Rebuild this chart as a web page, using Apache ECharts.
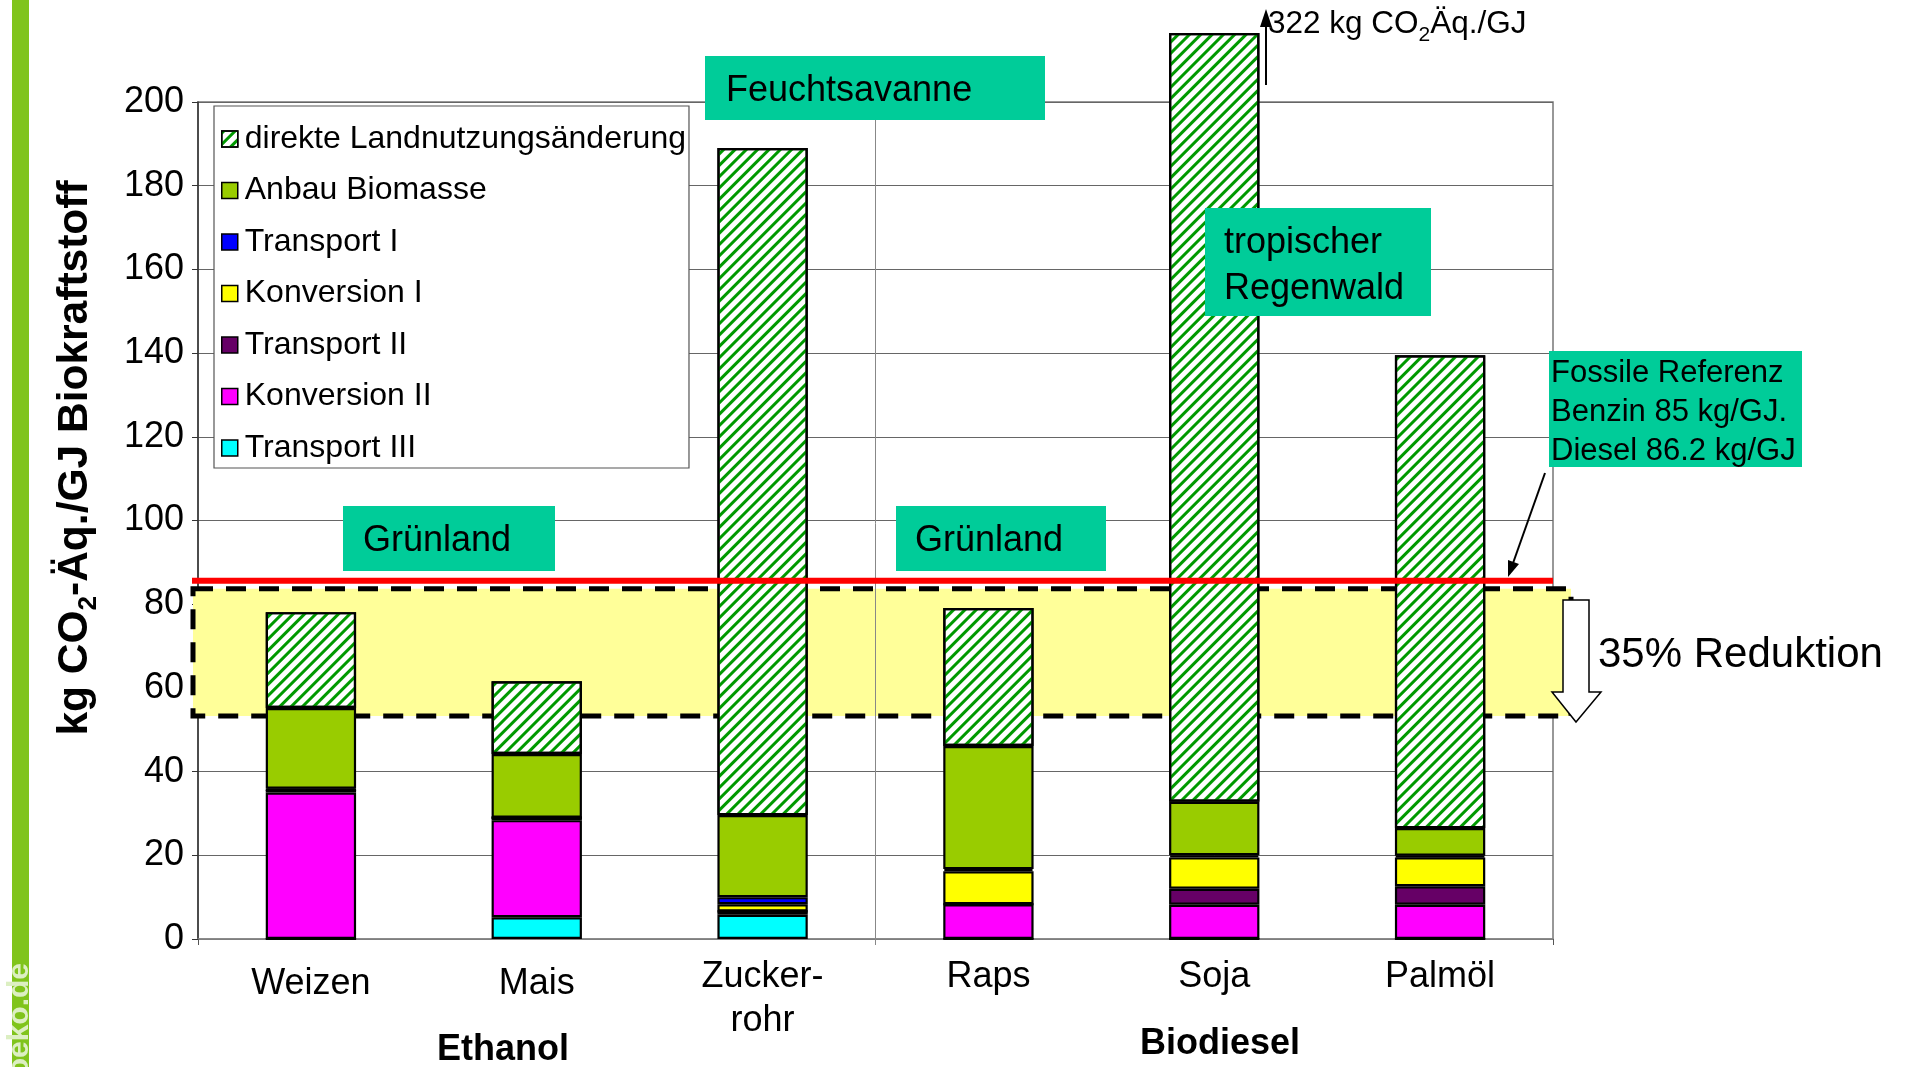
<!DOCTYPE html>
<html>
<head>
<meta charset="utf-8">
<title>THG-Bilanz Biokraftstoffe</title>
<script src="https://cdn.jsdelivr.net/npm/echarts@6/dist/echarts.min.js"></script>
<style>
  html, body { margin: 0; padding: 0; background: #fff; }
  #chart { width: 1908px; height: 1067px; }
</style>
</head>
<body>
<div id="chart"></div>
<script>
// Kategorien (Ethanol: Weizen, Mais, Zuckerrohr / Biodiesel: Raps, Soja, Palmöl)
const categories = ['Weizen', 'Mais', 'Zucker-\nrohr', 'Raps', 'Soja', 'Palmöl'];

// Emissionen in kg CO2-Äq./GJ, von unten nach oben gestapelt
const transport3 = [0, 5.2, 5.8, 0, 0, 0];
const konversion2 = [35.0, 23.2, 0.8, 8.3, 8.2, 8.2];
const transport2 = [0.6, 0.6, 0, 0, 3.8, 4.4];
const konversion1 = [0, 0, 1.7, 7.9, 7.5, 6.9];
const transport1 = [0.3, 0, 1.7, 0.5, 0.5, 0.4];
const anbau = [19.3, 15.2, 19.6, 29.4, 12.8, 6.6];
// Soja reicht eigentlich bis 322, im Diagramm abgeschnitten
const landnutzung = [22.9, 17.4, 159.4, 33.0, 183.7, 113.0];

// Referenzwerte
const fossilRef = 85.6;
const reductionBand = [53.3, 83.7];
const yTicks = [0, 200, 20];

const legendOrder = [
  'direkte Landnutzungsänderung', 'Anbau Biomasse', 'Transport I',
  'Konversion I', 'Transport II', 'Konversion II', 'Transport III'
];

const font = 'Liberation Sans, Arial, sans-serif';

function barSeries(name, data, color, extra) {
  return Object.assign({
    name: name,
    type: 'bar',
    stack: 'total',
    barWidth: '40%',
    data: data,
    itemStyle: { color: color, borderColor: '#000', borderWidth: 2.2 }
  }, extra || {});
}

let chart = echarts.init(document.getElementById('chart'));

let option = {
  animation: false,
  textStyle: { fontFamily: font },
  grid: {
    left: 198, right: 355, top: 102, bottom: 128,
    show: true, borderColor: '#777', borderWidth: 1.5
  },
  legend: {
    data: legendOrder,
    orient: 'vertical',
    left: 214,
    top: 106,
    padding: [15, 3, 2, 7],
    itemGap: 15.5,
    itemWidth: 16,
    itemHeight: 16,
    icon: 'rect',
    backgroundColor: '#fff',
    borderColor: '#555',
    borderWidth: 1.2,
    itemStyle: { borderColor: '#000', borderWidth: 1.5 },
    textStyle: { fontSize: 32, color: '#000', lineHeight: 36, padding: [0, 0, 0, 2], fontFamily: font }
  },
  xAxis: {
    type: 'category',
    data: categories,
    axisLine: { lineStyle: { color: '#888', width: 1.5 } },
    axisTick: { show: true, length: 6, interval: (i) => i % 3 === 0, lineStyle: { color: '#555' } },
    axisLabel: {
      interval: 0, fontSize: 36, color: '#000', margin: 16, lineHeight: 44,
      formatter: (v, i) => (i < 2 ? '{lo|' + v + '}' : v),
      rich: { lo: { fontSize: 36, color: '#000', lineHeight: 58 } }
    },
    splitLine: { show: false }
  },
  yAxis: {
    type: 'value',
    min: yTicks[0],
    max: yTicks[1],
    interval: yTicks[2],
    axisLine: { show: true, lineStyle: { color: '#333', width: 1.5 } },
    axisTick: { show: true, length: 6, lineStyle: { color: '#333' } },
    axisLabel: { fontSize: 36, color: '#000', margin: 14 },
    splitLine: { lineStyle: { color: '#666', width: 1 } }
  },
  series: [
    {
      type: 'custom', name: 'band', z: 1, silent: true, clip: false,
      data: [[0, 0]],
      renderItem: function (params, api) {
        let cs = params.coordSys;
        let yTop = api.coord([0, reductionBand[1]])[1];
        let yBot = api.coord([0, reductionBand[0]])[1];
        let x0 = cs.x - 5;
        let x1 = cs.x + cs.width + 18;
        let xDiv = (api.coord([2, 0])[0] + api.coord([3, 0])[0]) / 2;
        let box = { x: x0, y: yTop, width: x1 - x0, height: yBot - yTop };
        return {
          type: 'group',
          children: [
            { type: 'rect', shape: box, style: { fill: '#FFFF99' } },
            { type: 'rect', shape: box, style: { fill: 'none', stroke: '#000', lineWidth: 5, lineDash: [20, 13] } },
            { type: 'line', shape: { x1: xDiv, y1: cs.y, x2: xDiv, y2: cs.y + cs.height + 6 }, style: { stroke: '#888', lineWidth: 1 } }
          ]
        };
      }
    },
    barSeries('Transport III', transport3, '#00FFFF'),
    barSeries('Konversion II', konversion2, '#FF00FF'),
    barSeries('Transport II', transport2, '#660066'),
    barSeries('Konversion I', konversion1, '#FFFF00'),
    barSeries('Transport I', transport1, '#0000FF'),
    barSeries('Anbau Biomasse', anbau, '#99CC00'),
    barSeries('direkte Landnutzungsänderung', landnutzung, '#FFFFFF', {
      clip: false,
      itemStyle: {
        color: '#FFFFFF', borderColor: '#000', borderWidth: 2.2,
        decal: {
          symbol: 'rect', symbolSize: 1, color: '#009900',
          dashArrayX: [1, 0], dashArrayY: [3, 5], rotation: -Math.PI / 4
        }
      }
    }),
    {
      type: 'custom', name: 'fossil', z: 10, silent: true, clip: false,
      data: [[0, 0]],
      renderItem: function (params, api) {
        let cs = params.coordSys;
        let y = api.coord([0, fossilRef])[1];
        return {
          type: 'line',
          shape: { x1: cs.x - 6, y1: y, x2: cs.x + cs.width, y2: y },
          style: { stroke: '#FF0000', lineWidth: 6 }
        };
      }
    }
  ],
  graphic: [
    // oeko.de Randleiste
    { type: 'rect', shape: { x: 12, y: 0, width: 17, height: 1067 }, style: { fill: '#80C41C' }, z: 0 },
    { type: 'text', x: 20, y: 963, rotation: Math.PI / 2,
      style: { text: 'oeko.de', align: 'right', verticalAlign: 'middle', font: 'bold 30px ' + font, fill: '#DCEFC2' } },

    // Achsentitel
    { type: 'text', x: 75, y: 458, rotation: Math.PI / 2,
      style: {
        text: 'kg CO{s|2}-Äq./GJ Biokraftstoff',
        align: 'center', verticalAlign: 'middle',
        font: 'bold 42.5px ' + font, fill: '#000', lineHeight: 54,
        rich: { s: { fontSize: 26, fontWeight: 'bold', fontFamily: font, lineHeight: 24, verticalAlign: 'bottom', fill: '#000' } }
      } },

    // Gruppen
    { type: 'text', x: 503, y: 1050, style: { text: 'Ethanol', align: 'center', verticalAlign: 'middle', font: 'bold 36px ' + font, fill: '#000' } },
    { type: 'text', x: 1220, y: 1044, style: { text: 'Biodiesel', align: 'center', verticalAlign: 'middle', font: 'bold 36px ' + font, fill: '#000' } },

    // Hinweise Landnutzung
    { type: 'rect', shape: { x: 343, y: 506, width: 212, height: 65 }, style: { fill: '#00CC99' }, z: 20 },
    { type: 'text', x: 363, y: 541, z: 21, style: { text: 'Grünland', verticalAlign: 'middle', font: '36px ' + font, fill: '#000' } },
    { type: 'rect', shape: { x: 896, y: 506, width: 210, height: 65 }, style: { fill: '#00CC99' }, z: 20 },
    { type: 'text', x: 915, y: 541, z: 21, style: { text: 'Grünland', verticalAlign: 'middle', font: '36px ' + font, fill: '#000' } },
    { type: 'rect', shape: { x: 705, y: 56, width: 340, height: 64 }, style: { fill: '#00CC99' }, z: 20 },
    { type: 'text', x: 726, y: 91, z: 21, style: { text: 'Feuchtsavanne', verticalAlign: 'middle', font: '36px ' + font, fill: '#000' } },
    { type: 'rect', shape: { x: 1205, y: 208, width: 226, height: 108 }, style: { fill: '#00CC99' }, z: 20 },
    { type: 'text', x: 1224, y: 266, z: 21, style: { text: 'tropischer\nRegenwald', verticalAlign: 'middle', font: '36px ' + font, lineHeight: 46, fill: '#000' } },
    { type: 'rect', shape: { x: 1549, y: 351, width: 253, height: 116 }, style: { fill: '#00CC99' }, z: 20 },
    { type: 'text', x: 1551, y: 412, z: 21, style: { text: 'Fossile Referenz\nBenzin 85 kg/GJ.\nDiesel 86.2 kg/GJ', verticalAlign: 'middle', font: '31px ' + font, lineHeight: 39, fill: '#000' } },

    // Pfeil zur fossilen Referenz
    { type: 'line', z: 21, shape: { x1: 1545, y1: 473, x2: 1512, y2: 566 }, style: { stroke: '#000', lineWidth: 2 } },
    { type: 'polygon', z: 21, shape: { points: [[1508, 577], [1519, 564], [1508, 560]] }, style: { fill: '#000' } },

    // Soja-Wert ausserhalb der Skala
    { type: 'line', z: 21, shape: { x1: 1266, y1: 85, x2: 1266, y2: 22 }, style: { stroke: '#000', lineWidth: 2 } },
    { type: 'polygon', z: 21, shape: { points: [[1266, 9], [1260, 27], [1272, 27]] }, style: { fill: '#000' } },
    { type: 'text', x: 1268, y: 24, z: 21,
      style: {
        text: '322 kg CO{s|2}Äq./GJ', verticalAlign: 'middle',
        font: '31.5px ' + font, lineHeight: 44, fill: '#000',
        rich: { s: { fontSize: 21, fontFamily: font, lineHeight: 20, verticalAlign: 'bottom', fill: '#000' } }
      } },

    // Reduktionspfeil
    { type: 'polygon', z: 21,
      shape: { points: [[1563, 600], [1589, 600], [1589, 692], [1601, 692], [1576, 722], [1552, 692], [1563, 692]] },
      style: { fill: '#fff', stroke: '#000', lineWidth: 1.5 } },
    { type: 'text', x: 1598, y: 655, z: 21, style: { text: '35% Reduktion', verticalAlign: 'middle', font: '42px ' + font, fill: '#000' } }
  ]
};

chart.setOption(option);
</script>
</body>
</html>
